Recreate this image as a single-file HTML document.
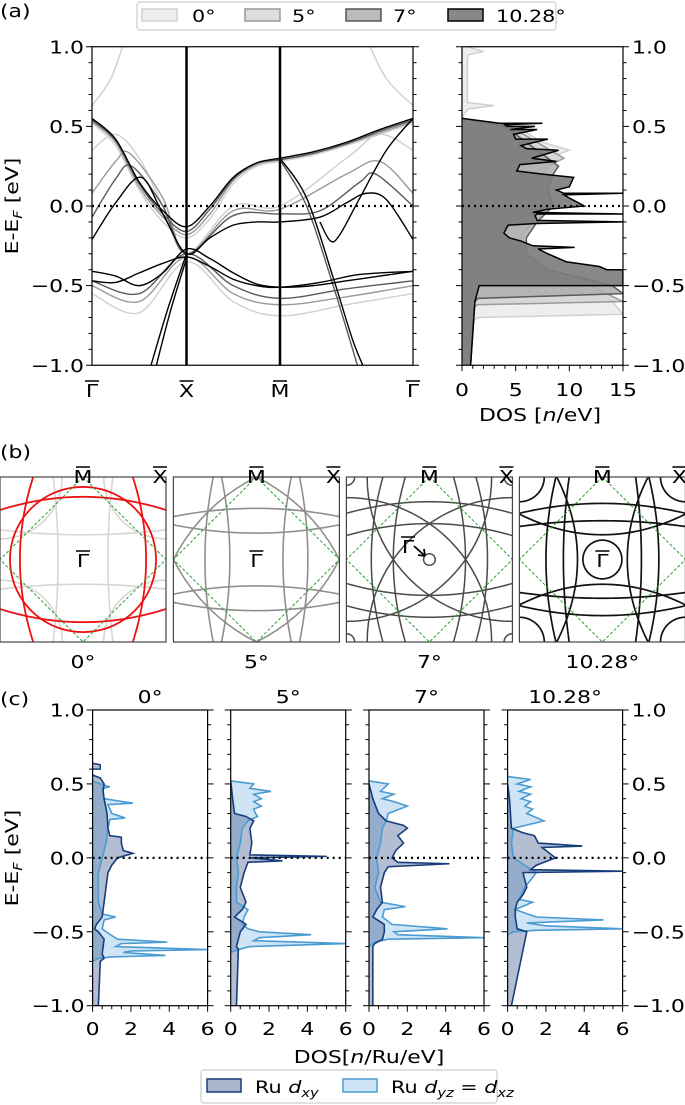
<!DOCTYPE html>
<html><head><meta charset="utf-8">
<style>
html,body{margin:0;padding:0;background:#fff;}
svg{display:block;font-family:"DejaVu Sans","Liberation Sans",sans-serif;}
</style></head>
<body>
<svg id="fig" xmlns="http://www.w3.org/2000/svg" width="685" height="1105" viewBox="0 0 685 1105">
<defs>
<clipPath id="clipBand"><rect x="92" y="46.75" width="321" height="318.5"/></clipPath>
<clipPath id="clipDos"><rect x="462" y="46.75" width="161" height="318.5"/></clipPath>
<clipPath id="clipFS0"><rect x="0" y="477" width="166" height="165"/></clipPath>
<clipPath id="clipFS1"><rect x="173.4" y="477" width="166" height="165"/></clipPath>
<clipPath id="clipFS2"><rect x="346.4" y="477" width="166" height="165"/></clipPath>
<clipPath id="clipFS3"><rect x="519.4" y="477" width="166" height="165"/></clipPath>
<clipPath id="clipC0"><rect x="92.6" y="710" width="115" height="295.7"/></clipPath>
<clipPath id="clipC1"><rect x="230.7" y="710" width="115" height="295.7"/></clipPath>
<clipPath id="clipC2"><rect x="369" y="710" width="115" height="295.7"/></clipPath>
<clipPath id="clipC3"><rect x="507.6" y="710" width="115" height="295.7"/></clipPath>
</defs>
</svg>
<script>
// ---------------- DATA: panel (a) bands (k path index 0=Γ,1=X,2=M,3=Γ) ----------------
const bandK_grid = [0,0.25,0.5,0.75,1,1.25,1.5,1.75,2,2.25,2.5,2.75,3];
// 10.28°
const b10_1 = [0.55,0.42,0.15,-0.03,-0.13,0.0,0.18,0.27,0.3,0.34,0.4,0.48,0.55];
const b10_2k = [0,0.25,0.52,0.75,1,1.25,1.5,1.75,2,2.3,2.5,2.65,2.8,3];
const b10_2 = [-0.21,0.02,0.18,-0.05,-0.3,-0.2,-0.12,-0.1,-0.1,-0.07,0.02,0.08,0.04,-0.21];
const b10_3 = [-0.41,-0.44,-0.5,-0.42,-0.27,-0.33,-0.42,-0.49,-0.51,-0.5,-0.47,-0.44,-0.41];
const b10_4k = [0,0.25,0.5,0.75,1,1.25,1.5,1.75,2,2.3,2.6,3];
const b10_4 = [-0.47,-0.48,-0.42,-0.36,-0.32,-0.38,-0.46,-0.5,-0.51,-0.48,-0.43,-0.41];
const b10_5k = [0.6,0.8,1];
const b10_5 = [-1.05,-0.65,-0.3];
const b10_6k = [0.66,0.83,1];
const b10_6 = [-1.05,-0.66,-0.33];
const b10_7k = [2,2.2,2.4,2.55,2.65];
const b10_7 = [0.3,0.05,-0.45,-0.85,-1.05];
const b10_8k = [3,2.8,2.6,2.45,2.38,2.3];
const b10_8 = [0.55,0.35,0.05,-0.18,-0.22,-0.1];
// 7°
const b7_1 = [0.54,0.41,0.14,-0.05,-0.16,-0.02,0.17,0.27,0.29,0.33,0.39,0.47,0.54];
const b7_2k = [0,0.25,0.42,0.75,1,1.5,2,2.3,2.6,2.72,3];
const b7_2 = [-0.07,0.17,0.25,0.0,-0.3,-0.06,-0.05,-0.03,0.15,0.2,0.0];
const b7_3k = [0,0.5,1,1.5,2,2.5,3];
const b7_3 = [-0.47,-0.55,-0.3,-0.5,-0.58,-0.52,-0.47];
const b7_4k = [2,2.2,2.4,2.6];
const b7_4 = [0.29,0.0,-0.5,-1.05];
// 5°
const b5_1 = [0.53,0.4,0.12,-0.07,-0.18,-0.05,0.16,0.26,0.29,0.33,0.39,0.46,0.53];
const b5_2k = [0,0.25,0.4,0.75,1,1.5,2,2.5,2.75,3];
const b5_2 = [0.08,0.28,0.33,0.05,-0.3,-0.03,-0.02,0.2,0.28,0.08];
const b5_3k = [0,0.5,1,1.5,2,2.5,3];
const b5_3 = [-0.5,-0.6,-0.32,-0.55,-0.62,-0.57,-0.5];
// 0°
const b0_1 = [0.52,0.38,0.1,-0.1,-0.2,-0.08,0.14,0.25,0.28,0.32,0.38,0.45,0.52];
const b0_2k = [0,0.2,0.35];
const b0_2 = [0.63,0.8,1.05];
const b0_3k = [3,2.8,2.65];
const b0_3 = [0.63,0.8,1.05];
const b0_4k = [0,0.5,1,1.5,2,2.5,3];
const b0_4 = [-0.55,-0.67,-0.35,-0.6,-0.69,-0.62,-0.55];
const b0_5k = [0,0.25,0.5,0.75,1,1.5,2,2.5,2.75,3];
const b0_5 = [0.35,0.45,0.3,0.0,-0.3,0.0,0.0,0.3,0.45,0.35];
// ---------------- DATA: panel (a) DOS ----------------
const dos10E = [0.55,0.52,0.52,0.51,0.5,0.5,0.48,0.48,0.45,0.42,0.42,0.38,0.36,0.35,0.3,0.28,0.26,0.22,0.2,0.18,0.12,0.1,0.08,0.08,0.07,0.05,0.0,-0.02,-0.04,-0.05,-0.05,-0.06,-0.09,-0.1,-0.11,-0.12,-0.17,-0.2,-0.22,-0.25,-0.26,-0.27,-0.3,-0.35,-0.38,-0.4,-0.4,-0.5,-0.5,-0.6,-1.0];
const dos10V = [0,3.5,7.5,4,4.2,6.8,4.5,7,4.8,5,8,5.5,6,9,6.5,8.8,5.4,5.1,7.5,10.4,10,8.8,9.5,15,9.5,10,11.4,8,6.6,15,7,6.8,7,15,7,4.3,3.9,4.4,5.5,6.6,10.5,7.1,8,9.7,12.8,13.5,15,15,1.6,1.2,0.8];
const dos7E = [0.55,0.5,0.4,0.3,0.25,0.2,0.1,0.0,-0.1,-0.2,-0.3,-0.4,-0.5,-0.55,-0.58,-0.6,-1.0];
const dos7V = [0,4,6,8,9,8.5,8,8.5,7,6,6,8,14,15,1.5,1.2,0.8];
const dos5E = [0.55,0.5,0.4,0.3,0.25,0.2,0.1,0.0,-0.1,-0.2,-0.3,-0.4,-0.5,-0.6,-0.62,-0.64,-1.0];
const dos5V = [0,4.5,7,9.5,8,7.5,7,7.5,6.5,5.5,5.5,7,12,15,1.4,1.1,0.8];
const dos0E = [1.0,0.97,0.95,0.92,0.65,0.63,0.61,0.58,0.55,0.5,0.4,0.35,0.3,0.2,0.1,0.0,-0.1,-0.2,-0.3,-0.4,-0.5,-0.6,-0.68,-0.7,-0.72,-1.0];
const dos0V = [0.5,2.0,0.6,0.5,0.5,3.0,0.6,0.2,0,5,7.5,10,8,7,6.5,7,6,5,5,6.5,10,14,15,1.5,1.1,0.8];
// ---------------- DATA: panel (b) Fermi surfaces (unit cell coords) ----------------
const fs0Red = [["circle",0,0,0.88],["para",0.76,0.16]];
const fs0Light = [["para",0.3,-0.06],["corner",0.75]];
const fs5 = [["corner",2.236],["para",0.62,0.1],["para",0.32,-0.1]];
const fs7 = [["para",0.70,0.14],["para",0.435,0.145],["corner",1.75],["corner",0.1],["circle",0,0,0.07]];
const fs10 = [["para",0.68,0.12],["para",0.47,0.07],["para",0.3,-0.25],["corner",0.3],["circle",0,0,0.235]];
// ---------------- DATA: panel (c) orbital DOS ----------------
const cAngles = ["0°","5°","7°","10.28°"];
const c0xyE = [0.56,0.54,0.5,0.45,0.4,0.3,0.2,0.15,0.14,0.1,0.05,0.03,0.0,-0.05,-0.1,-0.2,-0.3,-0.4,-0.45,-0.48,-0.5,-0.55,-0.6,-0.65,-0.68,-0.7,-1.0];
const c0xyV = [0,0.4,0.6,0.55,0.6,0.75,0.8,0.9,1.5,1.5,1.6,2.1,1.3,1.0,0.8,0.7,0.6,0.5,0.2,0.1,0.3,0.6,0.55,0.5,0.6,0.4,0.3];
const c0yzE = [0.52,0.5,0.48,0.47,0.4,0.37,0.36,0.3,0.27,0.26,0.2,0.1,0.0,-0.1,-0.2,-0.3,-0.38,-0.4,-0.42,-0.48,-0.5,-0.55,-0.57,-0.58,-0.6,-0.62,-0.63,-0.64,-0.66,-0.67,-0.68,-0.7];
const c0yzV = [0,0.4,0.9,0.5,0.6,2.1,0.8,1.0,1.7,0.9,0.8,0.7,0.5,0.3,0.3,0.3,0.5,1.2,0.6,0.5,0.7,1.3,3.9,1.5,1.2,6,2,1.6,3.8,1.0,0.3,0];
const c5xyE = [0.52,0.4,0.3,0.28,0.25,0.2,0.1,0.02,0.01,0.0,-0.02,-0.03,-0.1,-0.2,-0.3,-0.35,-0.4,-0.45,-0.5,-0.55,-0.6,-0.62,-1.0];
const c5xyV = [0,0.1,0.2,0.8,1.2,1.0,1.1,1.0,5.0,1.0,2.7,0.9,0.7,0.5,0.8,0.6,0.2,0.8,0.5,0.4,0.3,0.4,0.3];
const c5yzE = [0.52,0.5,0.47,0.45,0.43,0.4,0.38,0.35,0.33,0.3,0.28,0.25,0.2,0.1,0.0,-0.1,-0.2,-0.3,-0.35,-0.4,-0.45,-0.48,-0.5,-0.52,-0.54,-0.56,-0.58,-0.6,-0.62,-0.64];
const c5yzV = [0,1.2,1.0,2.1,1.2,1.6,1.2,1.6,1.2,1.3,1.4,0.9,0.6,0.5,0.3,0.4,0.3,0.3,0.9,0.7,0.6,0.9,1.5,4.2,1.5,1.2,6,1.0,0.4,0];
const c7xyE = [0.5,0.4,0.3,0.25,0.22,0.2,0.15,0.1,0.05,0.0,-0.03,-0.04,-0.06,-0.1,-0.2,-0.3,-0.35,-0.4,-0.45,-0.5,-0.55,-0.58,-0.6,-1.0];
const c7xyV = [0,0.2,0.5,0.9,1.8,2.0,1.5,1.8,1.4,1.2,1.5,4.2,1.0,0.8,0.6,0.7,0.4,0.2,0.8,0.8,0.7,0.3,0.2,0.2];
const c7yzE = [0.52,0.5,0.45,0.43,0.4,0.38,0.35,0.3,0.25,0.2,0.1,0.0,-0.1,-0.2,-0.3,-0.33,-0.35,-0.4,-0.45,-0.48,-0.5,-0.52,-0.54,-0.55,-0.57,-0.6];
const c7yzV = [0,1.0,0.6,1.3,0.7,1.3,2.0,1.0,0.9,0.7,0.6,0.4,0.5,0.3,0.6,1.9,0.8,0.7,1.2,4.1,1.3,1.5,6,1.0,0.3,0];
const c10xyE = [0.5,0.4,0.2,0.17,0.15,0.1,0.08,0.07,0.05,0.0,-0.05,-0.08,-0.09,-0.1,-0.15,-0.2,-0.25,-0.3,-0.35,-0.4,-0.48,-0.5,-1.0];
const c10xyV = [0,0.1,0.2,0.8,1.4,1.6,3.9,1.8,2.0,2.5,1.5,1.2,6,0.8,0.9,1.0,0.8,0.5,0.4,0.4,0.5,1.0,0.2];
const c10yzE = [0.55,0.53,0.5,0.48,0.45,0.43,0.4,0.38,0.35,0.33,0.3,0.25,0.2,0.1,0.0,-0.05,-0.1,-0.2,-0.28,-0.3,-0.35,-0.4,-0.42,-0.44,-0.46,-0.48,-0.49,-0.5,-0.52];
const c10yzV = [0,1.2,0.5,1.2,0.6,1.2,0.7,1.2,0.9,1.3,1.0,1.9,0.3,0.2,0.3,0.9,1.5,0.9,0.6,1.3,0.4,1.5,5,1.0,2,6,1.5,0.3,0];
const yTicks = [-1.0,-0.5,0.0,0.5,1.0];
const yTickLabels = ["\u22121.0","\u22120.5","0.0","0.5","1.0"];
const dosTicks = [0,5,10,15];
const cTicks = [0,2,4,6];

// ---------------- helpers ----------------
const NS = "http://www.w3.org/2000/svg";
const svg = document.getElementById("fig");
const SX = 1.22;
function mk(tag, attrs, parent){
  const e = document.createElementNS(NS, tag);
  for (const k in attrs) e.setAttribute(k, attrs[k]);
  (parent||svg).appendChild(e);
  return e;
}
function txt(s, x, y, anchor, size, parent){
  const t = mk("text", {x:0, y:0, transform:"translate("+x+","+y+") scale("+SX+",1)", "text-anchor":anchor||"middle", "font-size":size||18, fill:"#000"}, parent);
  t.textContent = s;
  return t;
}
function rtxt(x, y, anchor, size, parent, extra){
  return mk("text", {x:0, y:0, transform:"translate("+x+","+y+")"+(extra||"")+" scale("+SX+",1)", "text-anchor":anchor, "font-size":size}, parent);
}
function smoothPath(pts){
  if (pts.length < 2) return "";
  let d = "M" + pts[0][0].toFixed(2) + "," + pts[0][1].toFixed(2);
  for (let i = 0; i < pts.length - 1; i++){
    const p0 = pts[Math.max(0,i-1)], p1 = pts[i], p2 = pts[i+1], p3 = pts[Math.min(pts.length-1,i+2)];
    const c1x = p1[0] + (p2[0]-p0[0])/6, c1y = p1[1] + (p2[1]-p0[1])/6;
    const c2x = p2[0] - (p3[0]-p1[0])/6, c2y = p2[1] - (p3[1]-p1[1])/6;
    d += "C" + c1x.toFixed(2)+","+c1y.toFixed(2)+" "+c2x.toFixed(2)+","+c2y.toFixed(2)+" "+p2[0].toFixed(2)+","+p2[1].toFixed(2);
  }
  return d;
}
function polyPath(pts){ return "M" + pts.map(p => p[0].toFixed(2)+","+p[1].toFixed(2)).join("L"); }

// ---------------- panel (a) ----------------
function kx(k){ if (k <= 1) return 92 + k*94.5; if (k <= 2) return 186.5 + (k-1)*93.5; return 280 + (k-2)*133; }
function yE(E){ return 206 - E*159.25; }
const aLabel = txt("(a)", 0, 17, "start", 18);



const bandG = mk("g", {"clip-path":"url(#clipBand)"});


const bandSets = [
  {name:"0deg", color:"#cfcfcf", bands:[[bandK_grid,b0_1],[b0_2k,b0_2],[b0_3k,b0_3],[b0_4k,b0_4],[b0_5k,b0_5]]},
  {name:"5deg", color:"#9a9a9a", bands:[[bandK_grid,b5_1],[b5_2k,b5_2],[b5_3k,b5_3]]},
  {name:"7deg", color:"#5a5a5a", bands:[[bandK_grid,b7_1],[b7_2k,b7_2],[b7_3k,b7_3],[b7_4k,b7_4]]},
  {name:"10deg", color:"#000000", bands:[[bandK_grid,b10_1],[b10_2k,b10_2],[bandK_grid,b10_3],[b10_4k,b10_4],[b10_5k,b10_5],[b10_6k,b10_6],[b10_7k,b10_7],[b10_8k,b10_8]]}
];
bandSets.forEach(set => {
  set.bands.forEach((b, i) => {
    const pts = b[0].map((k, j) => [kx(k), yE(b[1][j])]);
    const p = mk("path", {d:smoothPath(pts), fill:"none", stroke:set.color, "stroke-width":1.4}, bandG);
    
    
  });
});
const fermiA = mk("line", {x1:92, x2:413, y1:yE(0), y2:yE(0), stroke:"#000", "stroke-width":2.2, "stroke-dasharray":"2,4"});


[1,2].forEach(k => {
  const l = mk("line", {x1:kx(k), x2:kx(k), y1:46.75, y2:365.25, stroke:"#000", "stroke-width":2.5});
  
  
});
const bandFrame = mk("rect", {x:92, y:46.75, width:321, height:318.5, fill:"none", stroke:"#000", "stroke-width":1.2});



function yTicksAt(xL, xR, y0, y1, withLeftLabels, withRightLabels){
  for (let v = -10; v <= 10; v++){
    const E = v/10; const y = y0 + (1-E)/2*(y1-y0);
    const major = (v % 5 === 0);
    const len = major ? 6 : 3.5;
    const t1 = mk("line", {x1:xL-len, x2:xL, y1:y, y2:y, stroke:"#000", "stroke-width":1});
    
    
    const t2 = mk("line", {x1:xR, x2:xR+len, y1:y, y2:y, stroke:"#000", "stroke-width":1});
    
    
  }
  yTicks.forEach((E, i) => {
    const y = y0 + (1-E)/2*(y1-y0) + 6.5;
    if (withLeftLabels){
      const t = txt(yTickLabels[i], xL-8, y, "end", 18);
      
      
    }
    if (withRightLabels){
      const t = txt(yTickLabels[i], xR+9, y, "start", 18);
      
      
    }
  });
}
yTicksAt(92, 413, 46.75, 365.25, true, false);

function barLabel(s, x, yBase, name){
  const g = mk("g", {});
  
  
  txt(s, x, yBase, "middle", 18, g);
  mk("line", {x1:x-7, x2:x+7, y1:yBase-16, y2:yBase-16, stroke:"#000", "stroke-width":1.5}, g);
  return g;
}
barLabel("\u0393", 92, 397, "k-label-gamma");
barLabel("X", 186.5, 397, "k-label-x");
barLabel("M", 280, 397, "k-label-m");
barLabel("\u0393", 413, 397, "k-label-gamma-end");
const aYL = rtxt(18, 206, "middle", 18, svg, " rotate(-90)");
aYL.innerHTML = 'E-E<tspan font-size="12" dy="4" font-style="italic">F</tspan><tspan dy="-4"> [eV]</tspan>';



// DOS panel
function dx(v){ return 462 + v*161/15; }
const dosG = mk("g", {"clip-path":"url(#clipDos)"});


const dosSets = [
  {name:"0deg", E:dos0E, V:dos0V, fill:"#ececec", stroke:"#d0d0d0"},
  {name:"5deg", E:dos5E, V:dos5V, fill:"#d4d4d4", stroke:"#9a9a9a"},
  {name:"7deg", E:dos7E, V:dos7V, fill:"#b0b0b0", stroke:"#5a5a5a"},
  {name:"10deg", E:dos10E, V:dos10V, fill:"#7b7b7b", stroke:"#000"}
];
dosSets.forEach(s => {
  const pts = s.E.map((E, i) => [dx(s.V[i]), yE(E)]);
  const fillPts = [[dx(0), yE(s.E[0])]].concat(pts).concat([[dx(0), yE(s.E[s.E.length-1])]]);
  const f = mk("path", {d:polyPath(fillPts)+"Z", fill:s.fill, stroke:"none", opacity:0.9}, dosG);
  
  
  const l = mk("path", {d:polyPath(pts), fill:"none", stroke:s.stroke, "stroke-width":1.5}, dosG);
  
  
});
const fermiD = mk("line", {x1:462, x2:623, y1:yE(0), y2:yE(0), stroke:"#000", "stroke-width":2.2, "stroke-dasharray":"2,4"});


const dosFrame = mk("rect", {x:462, y:46.75, width:161, height:318.5, fill:"none", stroke:"#000", "stroke-width":1.2});


yTicksAt(462, 623, 46.75, 365.25, false, true);
for (let v = 0; v <= 15; v++){
  const major = v % 5 === 0;
  const t = mk("line", {x1:dx(v), x2:dx(v), y1:365.25, y2:365.25 + (major?6:3.5), stroke:"#000", "stroke-width":1});
  
  
}
dosTicks.forEach(v => {
  const t = txt(String(v), dx(v), 396, "middle", 18);
  
  
});
const dosXL = rtxt(540, 421, "middle", 18, svg);
dosXL.innerHTML = 'DOS [<tspan font-style="italic">n</tspan>/eV]';



// legend (a)
const legA = mk("g", {});


mk("rect", {x:137, y:2, width:419, height:28, rx:3, fill:"#fff", stroke:"#cccccc", "stroke-width":1.2}, legA);
const legEntries = [["0°",142,192,"#eeeeee","#d0d0d0"],["5°",245,292,"#dddddd","#999999"],["7°",346,393,"#bbbbbb","#555555"],["10.28°",448,496,"#888888","#000000"]];
legEntries.forEach(e => {
  const g = mk("g", {}, legA);
  
  
  mk("rect", {x:e[1], y:9, width:35, height:12, fill:e[3], stroke:e[4], "stroke-width":1.5}, g);
  txt(e[0], e[2], 22, "start", 17, g);
});

// ---------------- panel (b) ----------------
const bLabel = txt("(b)", 0, 458, "start", 18);


const fsX0 = [0,173.4,346.4,519.4];
function fsShapePaths(spec){
  const out = [];
  const rot = (p, r) => { let u=p[0], v=p[1]; for (let i=0;i<r;i++){ const t=u; u=-v; v=t; } return [u,v]; };
  if (spec[0] === "circle"){
    const pts=[]; for (let i=0;i<=72;i++){ const a=i/72*2*Math.PI; pts.push([spec[1]+spec[3]*Math.cos(a), spec[2]+spec[3]*Math.sin(a)]); }
    out.push(pts);
  } else if (spec[0] === "para"){
    const base=[]; for (let i=0;i<=48;i++){ const u=-1.25+2.5*i/48; base.push([u, -(spec[1]-spec[2]*u*u)]); }
    for (let r=0;r<4;r++) out.push(base.map(p=>rot(p,r)));
  } else if (spec[0] === "corner"){
    for (let r=0;r<4;r++){
      const c = rot([1,1], r); const pts=[];
      for (let i=0;i<=96;i++){ const a=i/96*2*Math.PI; pts.push([c[0]+spec[1]*Math.cos(a), c[1]+spec[1]*Math.sin(a)]); }
      out.push(pts);
    }
  }
  return out;
}
function drawFS(idx, specs, color, width){
  const cx = fsX0[idx] + 83, cy = 559.5;
  const g = mk("g", {"clip-path":"url(#clipFS"+idx+")"});
  
  
  specs.forEach(s => {
    fsShapePaths(s).forEach(pts => {
      const px = pts.map(p => [cx + p[0]*83, cy + p[1]*82.5]);
      const p = mk("path", {d:polyPath(px), fill:"none", stroke:color, "stroke-width":width}, g);
      
      
    });
  });
  return g;
}
drawFS(0, fs0Light, "#d6d6d6", 1.6);
drawFS(0, fs0Red, "#ee1111", 1.8);
drawFS(1, fs5, "#8e8e8e", 1.6);
drawFS(2, fs7, "#4a4a4a", 1.5);
drawFS(3, fs10, "#111111", 1.7);
for (let i = 0; i < 4; i++){
  const cx = fsX0[i] + 83, cy = 559.5;
  const d = mk("polygon", {points:[[cx,477],[cx+83,cy],[cx,642],[cx-83,cy]].map(p=>p.join(",")).join(" "), fill:"none", stroke:"#2ca02c", "stroke-width":1, "stroke-dasharray":"3,2"});
  
  
  const fr = mk("rect", {x:fsX0[i], y:477, width:166, height:165, fill:"none", stroke:"#444", "stroke-width":1.2});
  
  
  barLabel("M", cx, 483, "fs-label-m");
  barLabel("X", fsX0[i] + 160, 483, "fs-label-x");
  const al = txt(cAngles[i], cx, 668, "middle", 18);
  
  
}
barLabel("\u0393", 83, 567, "fs-label-gamma");
barLabel("\u0393", 256.4, 567, "fs-label-gamma");
barLabel("\u0393", 408, 553, "fs-label-gamma");
barLabel("\u0393", 602.4, 567, "fs-label-gamma");
const arrow = mk("path", {d:"M414,546 L425,556 M425,556 l-7,-1 M425,556 l-1,-7", stroke:"#000", "stroke-width":1.8, fill:"none"});



// ---------------- panel (c) ----------------
const cLabel = txt("(c)", 0, 705, "start", 18);


const cX0 = [92.6,230.7,369,507.6];
const cData = [[c0xyE,c0xyV,c0yzE,c0yzV],[c5xyE,c5xyV,c5yzE,c5yzV],[c7xyE,c7xyV,c7yzE,c7yzV],[c10xyE,c10xyV,c10yzE,c10yzV]];
function cy_(E){ return 857.85 - E*147.85; }
for (let i = 0; i < 4; i++){
  const x0 = cX0[i];
  const cxp = v => x0 + v*115/6;
  const g = mk("g", {"clip-path":"url(#clipC"+i+")"});
  
  
  const d = cData[i];
  const series = [[d[2],d[3],"#cfe5f5","#4a9bd2","dyz"],[d[0],d[1],"rgba(40,70,130,0.35)","#173e7c","dxy"]];
  series.forEach(s => {
    const pts = s[0].map((E,j)=>[cxp(s[1][j]), cy_(E)]);
    const fp = [[cxp(0), cy_(s[0][0])]].concat(pts).concat([[cxp(0), cy_(s[0][s[0].length-1])]]);
    const f = mk("path", {d:polyPath(fp)+"Z", fill:s[2], stroke:"none"}, g);
    
    
  });
  series.forEach(s => {
    const pts = s[0].map((E,j)=>[cxp(s[1][j]), cy_(E)]);
    const l = mk("path", {d:polyPath(pts), fill:"none", stroke:s[3], "stroke-width":1.6}, g);
    
    
  });
  if (i === 0){
    const blip = mk("path", {d:"M"+cxp(0)+","+cy_(0.64)+"L"+cxp(0.4)+","+cy_(0.63)+"L"+cxp(0.4)+","+cy_(0.6)+"L"+cxp(0)+","+cy_(0.6), fill:"rgba(40,70,130,0.35)", stroke:"#173e7c", "stroke-width":1.5}, g);
    
    
  }
  const fl = mk("line", {x1:x0, x2:x0+115, y1:cy_(0), y2:cy_(0), stroke:"#000", "stroke-width":2.2, "stroke-dasharray":"2,4"});
  
  
  const fr = mk("rect", {x:x0, y:710, width:115, height:295.7, fill:"none", stroke:"#000", "stroke-width":1.2});
  
  
  yTicksAt(x0, x0+115, 710, 1005.7, i === 0, i === 3);
  for (let v = 0; v <= 12; v++){
    const major = v % 4 === 0;
    const t = mk("line", {x1:cxp(v/2), x2:cxp(v/2), y1:1005.7, y2:1005.7 + (major?6:3.5), stroke:"#000", "stroke-width":1});
    
    
  }
  cTicks.forEach(v => {
    const t = txt(String(v), cxp(v), 1035, "middle", 18);
    
    
  });
  const tt = txt(cAngles[i], x0 + 57.5, 703, "middle", 18);
  
  
}
const cYL = rtxt(18, 858, "middle", 18, svg, " rotate(-90)");
cYL.innerHTML = 'E-E<tspan font-size="12" dy="4" font-style="italic">F</tspan><tspan dy="-4"> [eV]</tspan>';


const cXL = rtxt(369, 1063, "middle", 18, svg);
cXL.innerHTML = 'DOS[<tspan font-style="italic">n</tspan>/Ru/eV]';



// legend (c)
const legC = mk("g", {});


mk("rect", {x:201, y:1070, width:296, height:33, rx:3, fill:"#fff", stroke:"#cccccc", "stroke-width":1.2}, legC);
const lc1 = mk("g", {}, legC);


mk("rect", {x:207, y:1079, width:34, height:13, fill:"#a9b5cb", stroke:"#173e7c", "stroke-width":1.5}, lc1);
const lt1 = rtxt(255, 1093, "start", 17, lc1);
lt1.innerHTML = 'Ru <tspan font-style="italic">d</tspan><tspan font-style="italic" font-size="12" dy="4">xy</tspan>';
const lc2 = mk("g", {}, legC);


mk("rect", {x:343, y:1079, width:34, height:13, fill:"#cfe5f5", stroke:"#4a9bd2", "stroke-width":1.5}, lc2);
const lt2 = rtxt(391, 1093, "start", 17, lc2);
lt2.innerHTML = 'Ru <tspan font-style="italic">d</tspan><tspan font-style="italic" font-size="12" dy="4">yz</tspan><tspan dy="-4"> = </tspan><tspan font-style="italic">d</tspan><tspan font-style="italic" font-size="12" dy="4">xz</tspan>';
</script>
</body></html>
